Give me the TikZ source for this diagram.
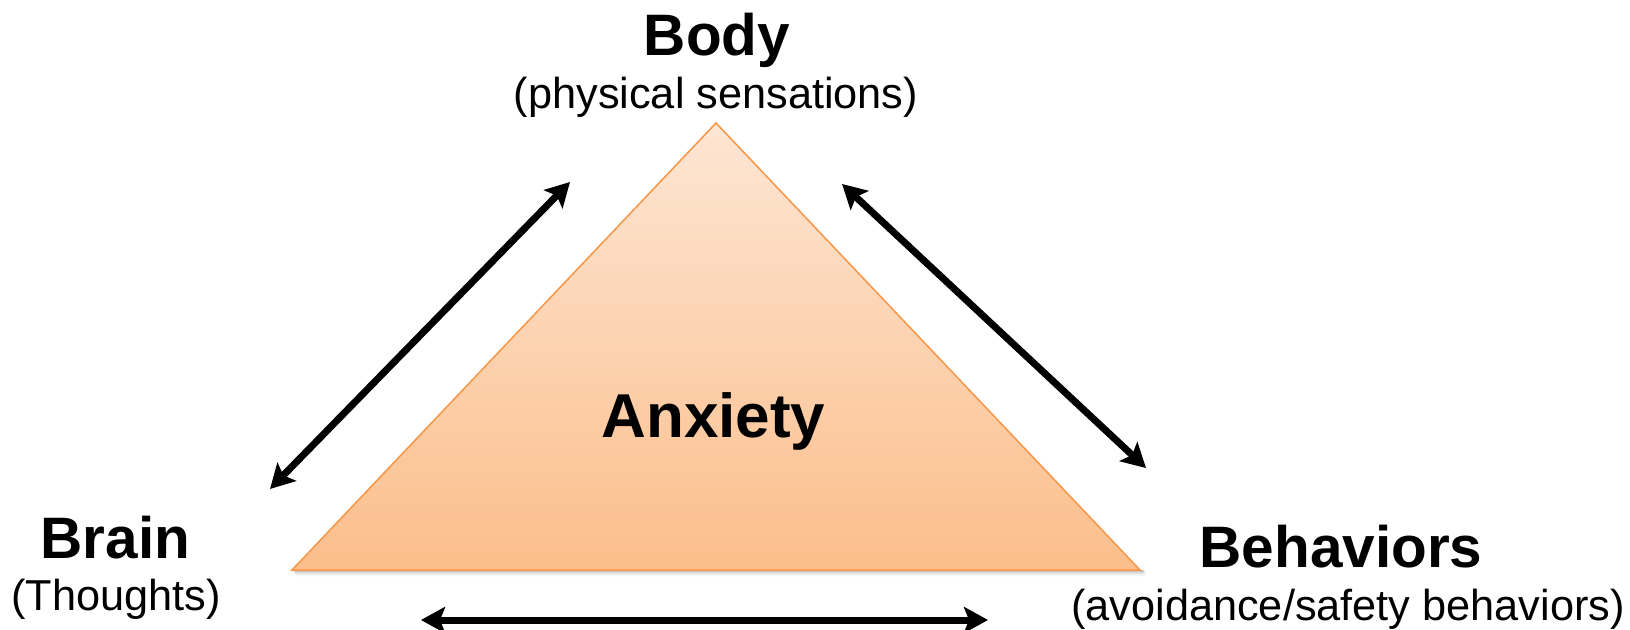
\documentclass[tikz,border=0pt]{standalone}
\usepackage{fontspec}
\setmainfont{Liberation Sans}
\usetikzlibrary{arrows.meta}
\definecolor{triborder}{HTML}{F79646}
\definecolor{tritop}{HTML}{FDE6D4}
\definecolor{tribot}{HTML}{FBBE8B}
\begin{document}
\begin{tikzpicture}[x=1pt,y=-1pt,
  title/.style={font=\fontsize{58.5}{62}\selectfont\bfseries, inner sep=0pt, anchor=base},
  sub/.style={font=\fontsize{43.3}{47}\selectfont, inner sep=0pt, anchor=base},
  dbl/.style={line width=7pt, {Stealth[length=24pt,width=26pt,inset=5pt]}-{Stealth[length=24pt,width=26pt,inset=5pt]}}]
\useasboundingbox (0,0) rectangle (1630,629);
% shadow
\foreach \i/\o in {1/0.10,2/0.08,3/0.06,4/0.045,5/0.03,6/0.02,7/0.01}{
  \fill[black, opacity=\o] (292+\i*0.6, 570) rectangle (1142+\i*0.6, 570+\i);
}
% triangle
\coordinate (apex) at (716,123);
\coordinate (bl) at (292,570);
\coordinate (br) at (1140,570);
\shade[top color=tritop, bottom color=tribot] (apex) -- (br) -- (bl) -- cycle;
\draw[triborder, line width=1.5pt, line join=miter] (apex) -- (br) -- (bl) -- cycle;
\node[title, font=\fontsize{62}{66}\selectfont\bfseries] (anx) at (713.5,437) {Anxiety};
% labels
\node[title] (body) at (717,55) {Body};
\node[sub] (bodys) at (716,108) {(physical sensations)};
\node[title] (brain) at (115.5,558) {Brain};
\node[sub] (brains) at (116,610) {(Thoughts)};
\node[title] (beh) at (1341,567) {Behaviors};
\node[sub] (behs) at (1348,620) {(avoidance/safety behaviors)};
% arrows
\coordinate (l1) at (270,489);
\coordinate (l2) at (570,182);
\coordinate (r1) at (842,184);
\coordinate (r2) at (1146,468);
\coordinate (b1) at (421,620);
\coordinate (b2) at (988,620);
\draw[dbl] (l1) -- (l2);
\draw[dbl] (r1) -- (r2);
\draw[dbl] (b1) -- (b2);
\end{tikzpicture}
\end{document}
